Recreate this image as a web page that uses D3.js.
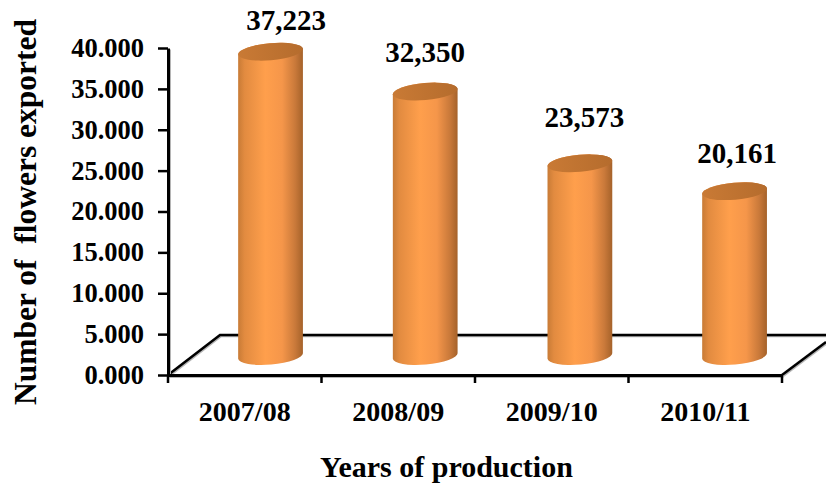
<!DOCTYPE html>
<html>
<head>
<meta charset="utf-8">
<script src="https://cdn.jsdelivr.net/npm/d3@7/dist/d3.min.js"></script>
<style>
  html, body { margin: 0; padding: 0; background: #fff; }
  text { font-family: "Liberation Serif", serif; font-weight: bold; fill: #000; }
  .ruled { filter: drop-shadow(1.5px 1.5px 0.6px #b5b5b5); }
</style>
</head>
<body>
<svg id="chart" width="826" height="485"></svg>
<script>
// Flower exports per production year
const years = ["2007/08", "2008/09", "2009/10", "2010/11"];
const exported = [37223, 32350, 23573, 20161];
const yTicks = [0, 5000, 10000, 15000, 20000, 25000, 30000, 35000, 40000];

const svg = d3.select("#chart");

// Front plane of the pseudo-3D plot area
const x = d3.scaleBand().domain(years).range([168, 782]);
const y = d3.scaleLinear().domain([0, 40000]).range([375, 48]);

// Cylinders stand further back on the floor, so they get their own band scale
const xBack = d3.scaleBand().domain(years).range([193.2, 811.9]);
const backLift = -19;
const floorBack = { x0: 220, y: 335, x1: 826, y1: 342 };
const rx = 32.5, ry = 8.5, tilt = -5;

const defs = svg.append("defs");
const body = defs.append("linearGradient").attr("id", "cylinder");
[[0, "#c87b36"], [0.1, "#e28b40"], [0.42, "#ff9f4c"], [0.68, "#f5964a"], [0.88, "#c9793a"], [1, "#a5622a"]]
  .forEach(([o, c]) => body.append("stop").attr("offset", o).attr("stop-color", c));
const cap = defs.append("linearGradient").attr("id", "cap");
[[0, "#c97a35"], [0.5, "#bf7331"], [1, "#b56c2d"]]
  .forEach(([o, c]) => cap.append("stop").attr("offset", o).attr("stop-color", c));

// Floor outline behind the cylinders
const floor = svg.append("g").attr("class", "ruled").attr("fill", "none").attr("stroke", "#000").attr("stroke-width", 2.5);
floor.append("path").attr("d", d3.line()([[x.range()[0], y(0)], [floorBack.x0, floorBack.y], [floorBack.x1, floorBack.y]]));
floor.append("path").attr("d", d3.line()([[x.range()[1], y(0)], [floorBack.x1, floorBack.y1]]));

// Cylinders
const ax = rx * Math.cos(tilt * Math.PI / 180);
const ay = rx * Math.sin(tilt * Math.PI / 180);
const centre = k => xBack(k) + xBack.bandwidth() / 2;
const bars = svg.append("g").selectAll("g").data(years.map((k, i) => ({ k, v: exported[i] }))).join("g");

bars.append("path")
  .attr("fill", "url(#cylinder)")
  .attr("d", d => {
    const cx = centre(d.k);
    const top = y(d.v) + backLift, bottom = y(0) + backLift;
    return `M${cx - ax},${top - ay} L${cx - ax},${bottom - ay}
            A${rx},${ry} ${tilt} 0 0 ${cx + ax},${bottom + ay}
            L${cx + ax},${top + ay}
            A${rx},${ry} ${tilt} 0 0 ${cx - ax},${top - ay}Z`;
  });

bars.append("ellipse")
  .attr("fill", "url(#cap)")
  .attr("rx", rx).attr("ry", ry)
  .attr("transform", d => `translate(${centre(d.k)},${y(d.v) + backLift}) rotate(${tilt})`);

// Value labels sit by hand above each cylinder
const labelShift = [[15.5, -21.7], [0, -29.6], [4.5, -36.3], [2.5, -28.2]];
bars.append("text")
  .attr("text-anchor", "middle")
  .attr("font-size", 29)
  .attr("x", (d, i) => centre(d.k) + labelShift[i][0])
  .attr("y", (d, i) => y(d.v) + backLift + labelShift[i][1])
  .text(d => d3.format(",")(d.v));

// Axes
const yAxis = svg.append("g")
  .attr("transform", `translate(${x.range()[0]},0)`)
  .call(d3.axisLeft(y).tickValues(yTicks).tickSize(10).tickSizeOuter(0).tickPadding(14)
    .tickFormat(d => d3.format(",.3f")(d / 1000)));

const xAxis = svg.append("g")
  .attr("transform", `translate(0,${y(0)})`)
  .call(d3.axisBottom(x).tickSize(0).tickPadding(26));

// Band-edge ticks on the category axis
xAxis.selectAll(".edge").data([...years.map(k => x(k)), x.range()[1]]).join("line")
  .attr("class", "edge").attr("stroke", "#000").attr("stroke-width", 2.5)
  .attr("x1", d => d).attr("x2", d => d).attr("y1", 0).attr("y2", 8);

[yAxis, xAxis].forEach(a => {
  a.selectAll("path.domain").attr("class", "domain ruled").attr("stroke", "#000").attr("stroke-width", 3);
  a.selectAll(".tick line").attr("stroke", "#000").attr("stroke-width", 2.5);
  a.selectAll("text").attr("font-family", null);
});
yAxis.attr("font-size", 26.5).selectAll("text").attr("font-size", 26.5);
xAxis.attr("font-size", 28).selectAll("text").attr("font-size", 28);

// Axis titles
svg.append("text")
  .attr("transform", "translate(36,212) rotate(-90)")
  .attr("text-anchor", "middle").attr("font-size", 31.5)
  .style("white-space", "pre")
  .text("Number of  flowers exported");

svg.append("text")
  .attr("x", 446.5).attr("y", 477)
  .attr("text-anchor", "middle").attr("font-size", 30)
  .text("Years of production");
</script>
</body>
</html>
